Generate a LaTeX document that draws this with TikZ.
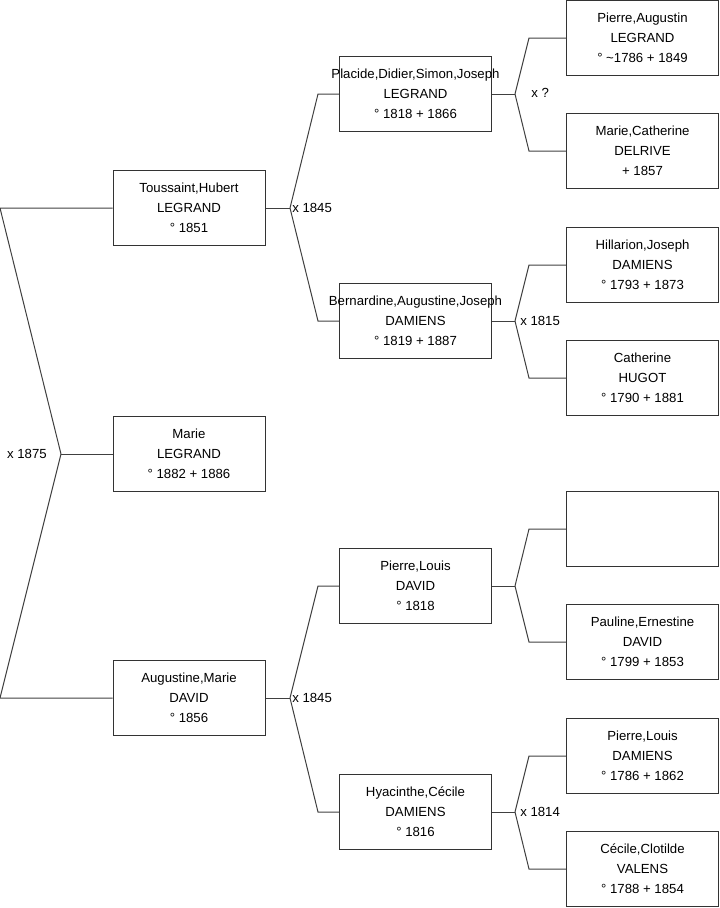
\documentclass[tikz,border=0pt]{standalone}
\usepackage{fontspec}
\setmainfont{Liberation Sans}

\begin{document}
\begin{tikzpicture}[x=0.75pt, y=-0.75pt,
    pessoa/.style={draw=black!80, line width=0.75pt, align=center,
                   font=\fontsize{9.9pt}{15pt}\selectfont,
                   minimum width=114pt, minimum height=56.25pt, inner sep=0pt},
    lien/.style={draw=black!75, line width=0.75pt},
    mariage/.style={font=\fontsize{9.9pt}{15pt}\selectfont, inner sep=0pt}]
  \useasboundingbox (0,0) rectangle (719,908);
  % generation 1
  \node[pessoa] (toussaint) at (189,208) {Toussaint,Hubert\\LEGRAND\\° 1851};
  \node[pessoa] (marie) at (189,454) {Marie\\LEGRAND\\° 1882 + 1886};
  \node[pessoa] (augustine) at (189,698) {Augustine,Marie\\DAVID\\° 1856};
  % generation 2
  \node[pessoa] (placide) at (415.5,94) {\makebox[114pt]{Placide,Didier,Simon,Joseph}\\LEGRAND\\° 1818 + 1866};
  \node[pessoa] (bernardine) at (415.5,321) {\makebox[114pt]{Bernardine,Augustine,Joseph}\\DAMIENS\\° 1819 + 1887};
  \node[pessoa] (pierrel) at (415.5,586) {Pierre,Louis\\DAVID\\° 1818};
  \node[pessoa] (hyacinthe) at (415.5,812) {Hyacinthe,Cécile\\DAMIENS\\° 1816};
  % generation 3
  \node[pessoa] (pierrea) at (642.5,38) {Pierre,Augustin\\LEGRAND\\° {\textasciitilde}1786 + 1849};
  \node[pessoa] (mariec) at (642.5,151) {Marie,Catherine\\DELRIVE\\+ 1857};
  \node[pessoa] (hillarion) at (642.5,265) {Hillarion,Joseph\\DAMIENS\\° 1793 + 1873};
  \node[pessoa] (catherine) at (642.5,378) {Catherine\\HUGOT\\° 1790 + 1881};
  \node[pessoa] (inconnu) at (642.5,529) {};
  \node[pessoa] (pauline) at (642.5,642) {Pauline,Ernestine\\DAVID\\° 1799 + 1853};
  \node[pessoa] (pierred) at (642.5,756) {Pierre,Louis\\DAMIENS\\° 1786 + 1862};
  \node[pessoa] (cecile) at (642.5,869) {Cécile,Clotilde\\VALENS\\° 1788 + 1854};
  % fourches
  \coordinate (f0) at (61,454);
  \coordinate (f0a) at (0,208);
  \coordinate (f0b) at (0,698);
  \coordinate (f1) at (290,208);
  \coordinate (f1a) at (318,94);
  \coordinate (f1b) at (318,321);
  \coordinate (f2) at (290,698);
  \coordinate (f2a) at (318,586);
  \coordinate (f2b) at (318,812);
  \coordinate (f3) at (515,94);
  \coordinate (f3a) at (529,38);
  \coordinate (f3b) at (529,151);
  \coordinate (f4) at (515,321);
  \coordinate (f4a) at (529,265);
  \coordinate (f4b) at (529,378);
  \coordinate (f5) at (515,586);
  \coordinate (f5a) at (529,529);
  \coordinate (f5b) at (529,642);
  \coordinate (f6) at (515,812);
  \coordinate (f6a) at (529,756);
  \coordinate (f6b) at (529,869);
  \draw[lien] (marie.west) -- (f0);
  \draw[lien] (f0) -- (f0a) -- (toussaint.west);
  \draw[lien] (f0) -- (f0b) -- (augustine.west);
  \draw[lien] (toussaint.east) -- (f1);
  \draw[lien] (f1) -- (f1a) -- (placide.west);
  \draw[lien] (f1) -- (f1b) -- (bernardine.west);
  \draw[lien] (augustine.east) -- (f2);
  \draw[lien] (f2) -- (f2a) -- (pierrel.west);
  \draw[lien] (f2) -- (f2b) -- (hyacinthe.west);
  \draw[lien] (placide.east) -- (f3);
  \draw[lien] (f3) -- (f3a) -- (pierrea.west);
  \draw[lien] (f3) -- (f3b) -- (mariec.west);
  \draw[lien] (bernardine.east) -- (f4);
  \draw[lien] (f4) -- (f4a) -- (hillarion.west);
  \draw[lien] (f4) -- (f4b) -- (catherine.west);
  \draw[lien] (pierrel.east) -- (f5);
  \draw[lien] (f5) -- (f5a) -- (inconnu.west);
  \draw[lien] (f5) -- (f5b) -- (pauline.west);
  \draw[lien] (hyacinthe.east) -- (f6);
  \draw[lien] (f6) -- (f6a) -- (pierred.west);
  \draw[lien] (f6) -- (f6b) -- (cecile.west);
  % mariages
  \node[mariage, anchor=east] (m0) at (47,454) {x 1875};
  \node[mariage, anchor=west] (m1) at (292,208) {x 1845};
  \node[mariage, anchor=west] (m2) at (292,698) {x 1845};
  \node[mariage, anchor=west] (m3) at (531,93) {x ?};
  \node[mariage, anchor=west] (m4) at (520,321) {x 1815};
  \node[mariage, anchor=west] (m6) at (520,812) {x 1814};
\end{tikzpicture}
\end{document}
